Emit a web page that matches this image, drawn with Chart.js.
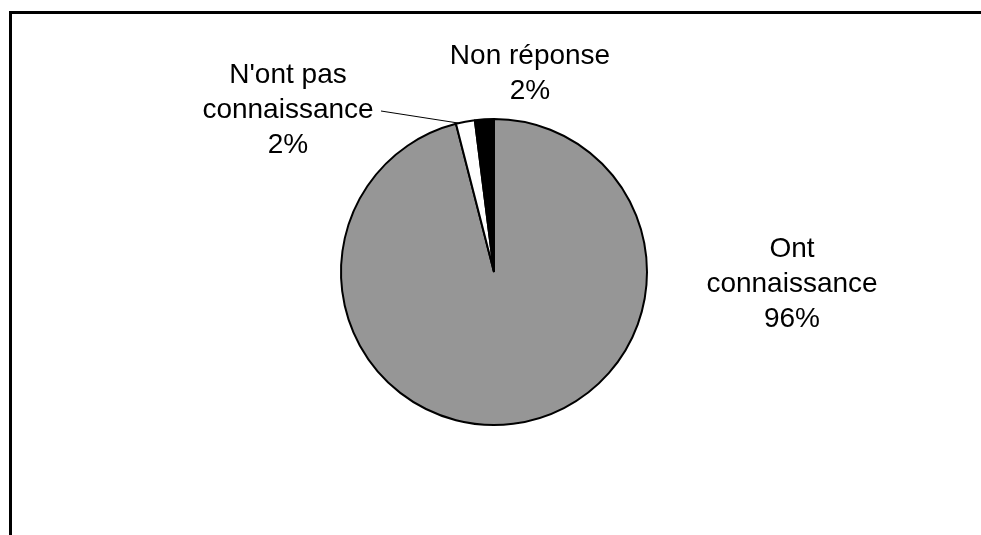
<!DOCTYPE html>
<html lang="fr">
<head>
    <meta charset="UTF-8">
    <title>Connaissance</title>
    <style>
        body {
            margin: 0;
            background: #fff;
        }
        #wrap {
            position: relative;
            width: 981px;
            height: 535px;
        }
        #frame {
            position: absolute;
            left: 9px;
            top: 11px;
            right: -5px;
            bottom: -5px;
            border-top: 3px solid #000;
            border-left: 3px solid #000;
            pointer-events: none;
        }
    </style>
</head>
<body>
    <div id="wrap">
        <canvas id="pie" width="981" height="535"></canvas>
        <div id="frame"></div>
    </div>

    <script src="https://cdn.jsdelivr.net/npm/chart.js"></script>
    <script>
        // données
        const categories = ['Ont connaissance', "N'ont pas connaissance", 'Non réponse'];
        const values = [96, 2, 2];
        const colors = ['#969696', '#ffffff', '#000000'];

        // textes des étiquettes (lignes) et décalage par rapport au centre du camembert
        const labelLines = [
            ['Ont', 'connaissance', '96%'],
            ["N'ont pas", 'connaissance', '2%'],
            ['Non réponse', '2%']
        ];
        const labelOffsets = [
            { dx: 298, dy: -15 },
            { dx: -206, dy: -189 },
            { dx: 36, dy: -208 }
        ];

        const labelPlugin = {
            id: 'pieLabels',
            afterDraw(chart) {
                const c = chart.ctx;
                const arcs = chart.getDatasetMeta(0).data;
                const cx = arcs[0].x, cy = arcs[0].y;
                c.save();
                c.fillStyle = '#000';
                c.font = '28px "Liberation Sans", Arial, sans-serif';
                c.textAlign = 'center';
                c.textBaseline = 'alphabetic';
                labelLines.forEach((lines, i) => {
                    const o = labelOffsets[i];
                    lines.forEach((t, j) => {
                        c.fillText(t, cx + o.dx, cy + o.dy + j * 35);
                    });
                });

                // trait de rappel vers la tranche blanche
                const a = arcs[1];
                const ang = a.startAngle + 0.15 * (a.endAngle - a.startAngle);
                c.strokeStyle = '#000';
                c.lineWidth = 1;
                c.beginPath();
                c.moveTo(cx - 113, cy - 161);
                c.lineTo(cx + Math.cos(ang) * a.outerRadius, cy + Math.sin(ang) * a.outerRadius);
                c.stroke();
                c.restore();
            }
        };

        new Chart(document.getElementById('pie'), {
            type: 'pie',
            data: {
                labels: categories,
                datasets: [{
                    data: values,
                    backgroundColor: colors,
                    borderColor: '#000',
                    borderWidth: 2
                }]
            },
            options: {
                responsive: false,
                animation: false,
                layout: {
                    padding: { left: 340, right: 333, top: 118, bottom: 109 }
                },
                plugins: {
                    legend: { display: false },
                    tooltip: { enabled: false }
                }
            },
            plugins: [labelPlugin]
        });
    </script>
</body>
</html>
